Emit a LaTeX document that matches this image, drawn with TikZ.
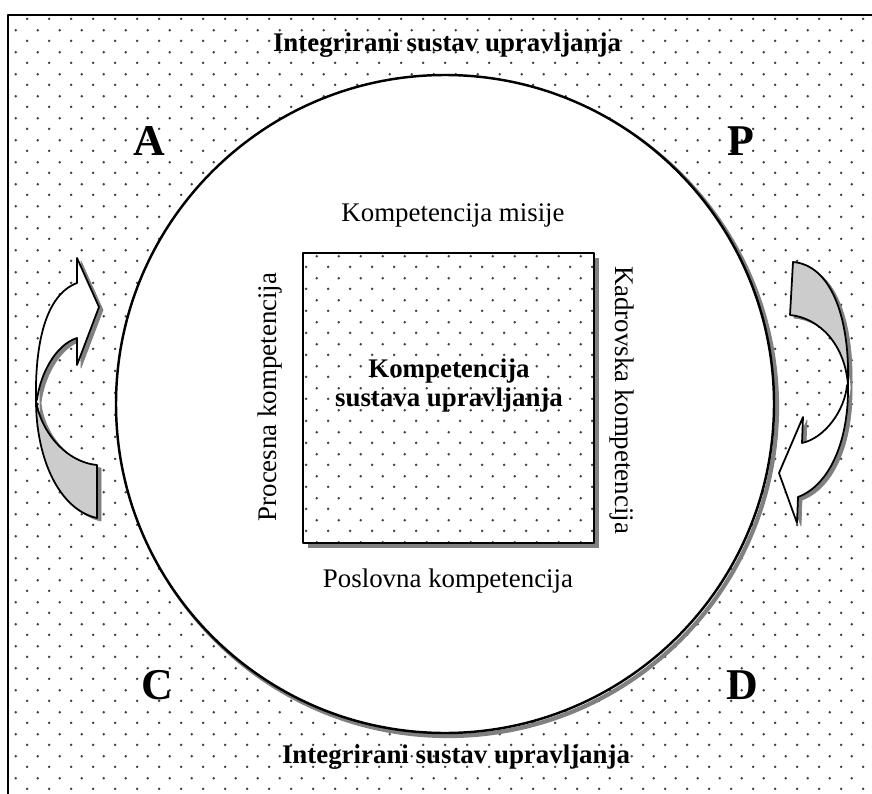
\documentclass[tikz,border=0pt]{standalone}
\usepackage{fontspec}
\setmainfont{Liberation Serif}
\usepackage{tikz}
\usetikzlibrary{patterns, positioning}

\pgfdeclarepatternformonly{sparsedots}{\pgfqpoint{0pt}{0pt}}{\pgfqpoint{12.26pt}{12.26pt}}{\pgfqpoint{12.26pt}{12.26pt}}{
    \pgfpathcircle{\pgfqpoint{3pt}{3pt}}{0.8pt}
    \pgfpathcircle{\pgfqpoint{9.13pt}{9.13pt}}{0.8pt}
    \pgfusepath{fill}
}

\tikzset{
    dotted area/.style={pattern=sparsedots, pattern color=black!75},
    corner/.style={font=\fontsize{25}{28}\selectfont\bfseries},
    title/.style={font=\fontsize{15.3}{18}\selectfont\bfseries},
    comp/.style={font=\fontsize{15.3}{18}\selectfont},
    shade/.style={fill=black!50, draw=black!50},
    band/.style={draw, line width=1pt},
}

\begin{document}
\begin{tikzpicture}[x=0.02cm, y=-0.02cm, line join=round]
    \useasboundingbox (0,0) rectangle (872,794);

    % background and frame
    \fill[white] (0,0) rectangle (872,794);
    \fill[dotted area] (8,15) rectangle (872,794);
    \draw[line width=1.4pt] (8,794) -- (8,15) -- (872,15);

    % big circle
    \draw[black!50, line width=2.4pt] (448,407) circle[radius=329];
    \draw[fill=white, line width=1.4pt] (445,404) circle[radius=329];

    % inner square
    \fill[black!50] (308,258) rectangle (599,548);
    \fill[white] (303,253) rectangle (594,543);
    \draw[dotted area, line width=1.6pt] (303,253) rectangle (594,543);

    % left curved arrow
    \begin{scope}[shift={(4,3)}]
        \fill[shade] (97,518) .. controls (60,510) and (36,460) .. (36,400)
            .. controls (35,345) and (45,295) .. (77,283) -- (77,258) -- (99,307)
            -- (77,365) -- (77,338) .. controls (55,345) and (40,375) .. (37,400)
            .. controls (40,430) and (65,462) .. (97,465) -- cycle;
    \end{scope}
    \draw[band, fill=black!20] (97,518) .. controls (60,510) and (36,460) .. (36,400)
        .. controls (40,430) and (65,462) .. (97,465) -- cycle;
    \draw[band, fill=white] (36,400) .. controls (35,345) and (45,295) .. (77,283)
        -- (77,258) -- (99,307) -- (77,365) -- (77,338)
        .. controls (55,345) and (40,375) .. (37,400) -- cycle;

    % right curved arrow
    \begin{scope}[shift={(4,3)}]
        \fill[shade] (793,262) .. controls (830,265) and (850,315) .. (848,385)
            .. controls (849,440) and (830,485) .. (798,497) -- (797,523) -- (779,473)
            -- (803,417) -- (802,443) .. controls (825,438) and (845,410) .. (847,385)
            .. controls (845,345) and (820,318) .. (790,315) -- cycle;
    \end{scope}
    \draw[band, fill=black!20] (793,262) .. controls (830,265) and (850,315) .. (848,385)
        .. controls (845,345) and (820,318) .. (790,315) -- cycle;
    \draw[band, fill=white] (848,385) .. controls (849,440) and (830,485) .. (798,497)
        -- (797,523) -- (779,473) -- (803,417) -- (802,443)
        .. controls (825,438) and (845,410) .. (847,385) -- cycle;

    % labels
    \node[title] (top) at (447,45) {Integrirani sustav upravljanja};
    \node[title] (bottom) at (456,757) {Integrirani sustav upravljanja};

    \node[corner] (a) at (149,141) {A};
    \node[corner] (p) at (741,141) {P};
    \node[corner] (c) at (157,685) {C};
    \node[corner] (d) at (742,685) {D};

    \node[comp] (mission) at (453,215) {Kompetencija misije};
    \node[comp] (business) at (448,581) {Poslovna kompetencija};
    \node[comp, rotate=90] (process) at (270,397) {Procesna kompetencija};
    \node[comp, rotate=-90] (staff) at (622,400) {Kadrovska kompetencija};

    \node[title, align=center] (core) at (449,386) {Kompetencija\\[-1.5pt]sustava upravljanja};
\end{tikzpicture}
\end{document}
